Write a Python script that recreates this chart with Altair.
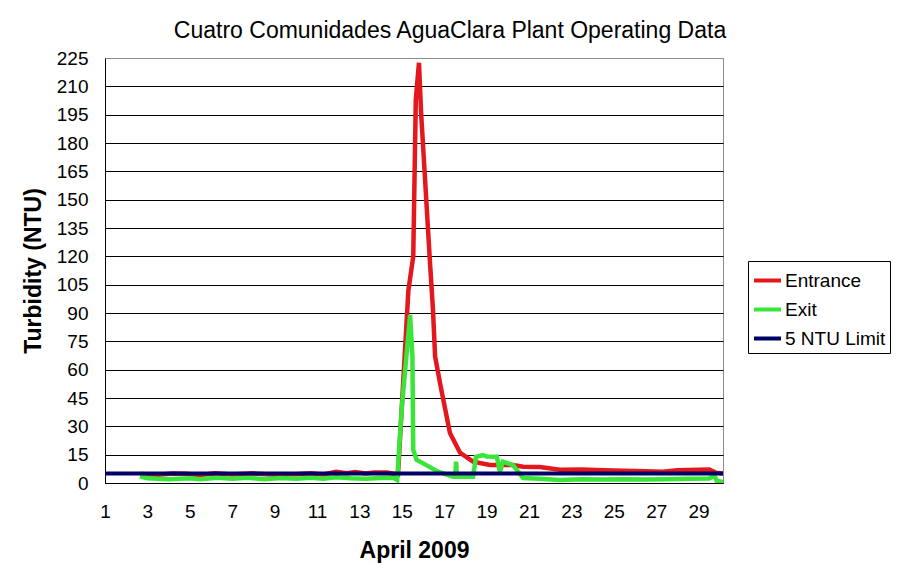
import altair as alt
import pandas as pd

# ---- data ----
entrance_day = [2.65, 3.5, 4.2, 4.8, 5.5, 6.2, 7.0, 8.0, 9.0, 10.0, 10.7, 11.3, 11.9, 12.4, 12.8,
                13.3, 13.7, 14.3, 14.82, 15.31, 15.54, 15.66, 15.81, 15.91, 16.33, 16.47, 16.57,
                16.8, 17.27, 17.75, 18.36, 19.16, 20.25, 20.72, 21.5, 22.46, 23.5, 24.5, 25.5,
                26.5, 27.3, 28.0, 29.0, 29.5, 29.8, 30.15]
entrance_ntu = [4.8, 4.4, 5.0, 4.9, 4.3, 5.2, 4.5, 5.1, 4.4, 4.6, 5.1, 4.5, 5.9, 5.2, 5.8,
                5.0, 5.6, 5.6, 4.5, 102, 120, 203, 222.5, 196, 116.5, 91.6, 67,
                53, 26.5, 16, 11.3, 9.5, 9.5, 8.6, 8.5, 7.0, 7.2, 6.8, 6.5,
                6.2, 6.0, 6.8, 7.0, 7.2, 5.5, 5.0]

exit_day = [2.65, 3.0, 4.0, 5.0, 5.5, 6.3, 7.0, 7.7, 8.5, 9.3, 10.0, 10.7, 11.3, 11.9, 12.6,
            13.3, 14.0, 14.6, 14.78, 15.0, 15.39, 15.5, 15.54, 15.7, 15.86, 16.71, 17.42,
            17.52, 17.56, 17.6, 18.36, 18.5, 18.83, 19.0, 19.48, 19.63, 19.77, 20.25, 20.72,
            21.5, 22.46, 23.5, 24.5, 25.5, 26.5, 27.5, 28.5, 29.5, 29.75, 29.85, 30.15]
exit_ntu = [3.5, 2.5, 2.0, 2.5, 2.0, 2.8, 2.2, 2.8, 2.0, 2.6, 2.2, 2.8, 2.3, 3.0, 2.5,
            2.3, 2.6, 2.8, 1.6, 40, 89, 67, 17.5, 12.2, 11.3, 6.0, 3.3,
            3.3, 11.3, 3.3, 3.3, 13.9, 14.8, 14.0, 13.9, 6.0, 11.3, 9.5, 2.6,
            2.2, 1.6, 2.0, 1.8, 2.0, 1.8, 2.0, 2.2, 2.4, 4.0, 1.2, 0.5]

limit_day = [1.0, 30.15]
limit_ntu = [5.0, 5.0]

series_names = ["Entrance", "Exit", "5 NTU Limit"]
series_colors = ["#E3171C", "#38E638", "#000066"]

y_ticks = list(range(0, 226, 15))
x_ticks = list(range(1, 30, 2))

df = pd.concat([
    pd.DataFrame({"day": entrance_day, "ntu": entrance_ntu, "series": "Entrance"}),
    pd.DataFrame({"day": exit_day, "ntu": exit_ntu, "series": "Exit"}),
    pd.DataFrame({"day": limit_day, "ntu": limit_ntu, "series": "5 NTU Limit"}),
], ignore_index=True)

FONT = "Liberation Sans"

x_enc = alt.X("day:Q",
              scale=alt.Scale(domain=[1, 30.15], nice=False, zero=False),
              axis=alt.Axis(values=x_ticks, grid=False, ticks=False, labelFontSize=19,
                            labelPadding=19, labelColor="black", domainColor="black",
                            title="April 2009", titleFontSize=23, titleFontWeight="bold",
                            titleColor="black", titleBaseline="alphabetic", titleY=74,
                            labelFlush=False))
y_enc = alt.Y("ntu:Q",
              scale=alt.Scale(domain=[0, 225], nice=False),
              axis=alt.Axis(values=y_ticks, ticks=False, labelFontSize=19, labelPadding=17,
                            labelColor="black", domainColor="black",
                            gridColor=alt.condition("datum.value == 225", alt.value("#8a8a8a"), alt.value("black")),
                            gridOpacity=1, gridWidth=1,
                            title="Turbidity (NTU)", titleFontSize=23, titleFontWeight="bold",
                            titleColor="black", titleBaseline="alphabetic", titleX=-65,
                            titleY=212.5, titleAlign="center", titleAngle=270,
                            labelFlush=False))
color_enc = alt.Color("series:N",
                      scale=alt.Scale(domain=series_names, range=series_colors),
                      legend=alt.Legend(title=None, orient="none", legendX=643, legendY=203,
                                        symbolType="stroke", symbolSize=729,
                                        symbolStrokeWidth=4, labelFontSize=19,
                                        labelColor="black", labelOffset=2, padding=4,
                                        strokeColor="black", fillColor="white",
                                        rowPadding=3))

base = alt.Chart(df)
layers = []
for name, w in zip(series_names, [4.5, 4.5, 4]):
    layers.append(
        base.transform_filter(alt.datum.series == name)
        .mark_line(strokeWidth=w, clip=True)
        .encode(x=x_enc, y=y_enc, color=color_enc, order="day:Q")
    )

chart = alt.layer(*layers).properties(
    width=618, height=425,
    autosize=alt.AutoSizeParams(type="none"),
    padding={"left": 97, "top": 50, "right": 170, "bottom": 88},
    title=alt.TitleParams("Cuatro Comunidades AguaClara Plant Operating Data",
                          anchor="middle", dx=36, dy=28, baseline="alphabetic", offset=16,
                          fontSize=23, fontWeight="normal", color="black", font=FONT),
).configure(font=FONT, background="white").configure_view(stroke="#8a8a8a", strokeWidth=1)

chart.save("out.html", embed_options={"renderer": "svg", "actions": False})
